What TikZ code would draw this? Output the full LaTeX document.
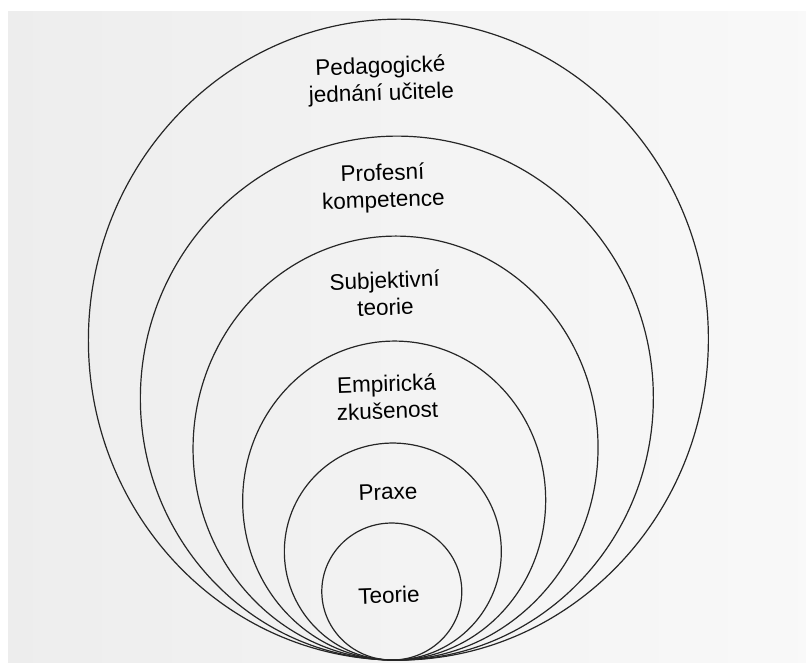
\documentclass[tikz,border=0pt]{standalone}
\usepackage{fontspec}
\setmainfont{Liberation Sans}
\begin{document}
\begin{tikzpicture}[x=1pt,y=1pt,
  ring/.style={draw=black!85,line width=1.2pt,rotate around={-1.5:(390,2)}},
  lab/.style={font=\fontsize{22.5}{27}\selectfont,align=center,inner sep=0pt,rotate=2,text=black}]
\useasboundingbox (0,0) rectangle (806,662);
\fill[white] (0,0) rectangle (806,662);
\shade[left color=gray!14,right color=gray!5] (8,0) rectangle (806,650);
% rings (outer to inner), all touching at the bottom
\draw[ring] (390,322.5) ellipse [x radius=310pt,y radius=320.5pt];
\draw[ring] (390,264) ellipse [x radius=256.5pt,y radius=262pt];
\draw[ring] (390,214) ellipse [x radius=202.5pt,y radius=212pt];
\draw[ring] (390,161.5) ellipse [x radius=151.5pt,y radius=159.5pt];
\draw[ring] (390,110.5) ellipse [x radius=108.5pt,y radius=108.5pt];
\draw[ring] (390,70.5) ellipse [x radius=70pt,y radius=68.5pt];
% labels
\node[lab] (ped) at (381,581) {Pedagogické\\jednání učitele};
\node[lab] (prof) at (383,474) {Profesní\\kompetence};
\node[lab] (subj) at (385,368.5) {Subjektivní\\teorie};
\node[lab] (emp) at (387,265) {Empirická\\zkušenost};
\node[lab] (prax) at (388,170) {Praxe};
\node[lab] (teor) at (389,67) {Teorie};
\end{tikzpicture}
\end{document}
